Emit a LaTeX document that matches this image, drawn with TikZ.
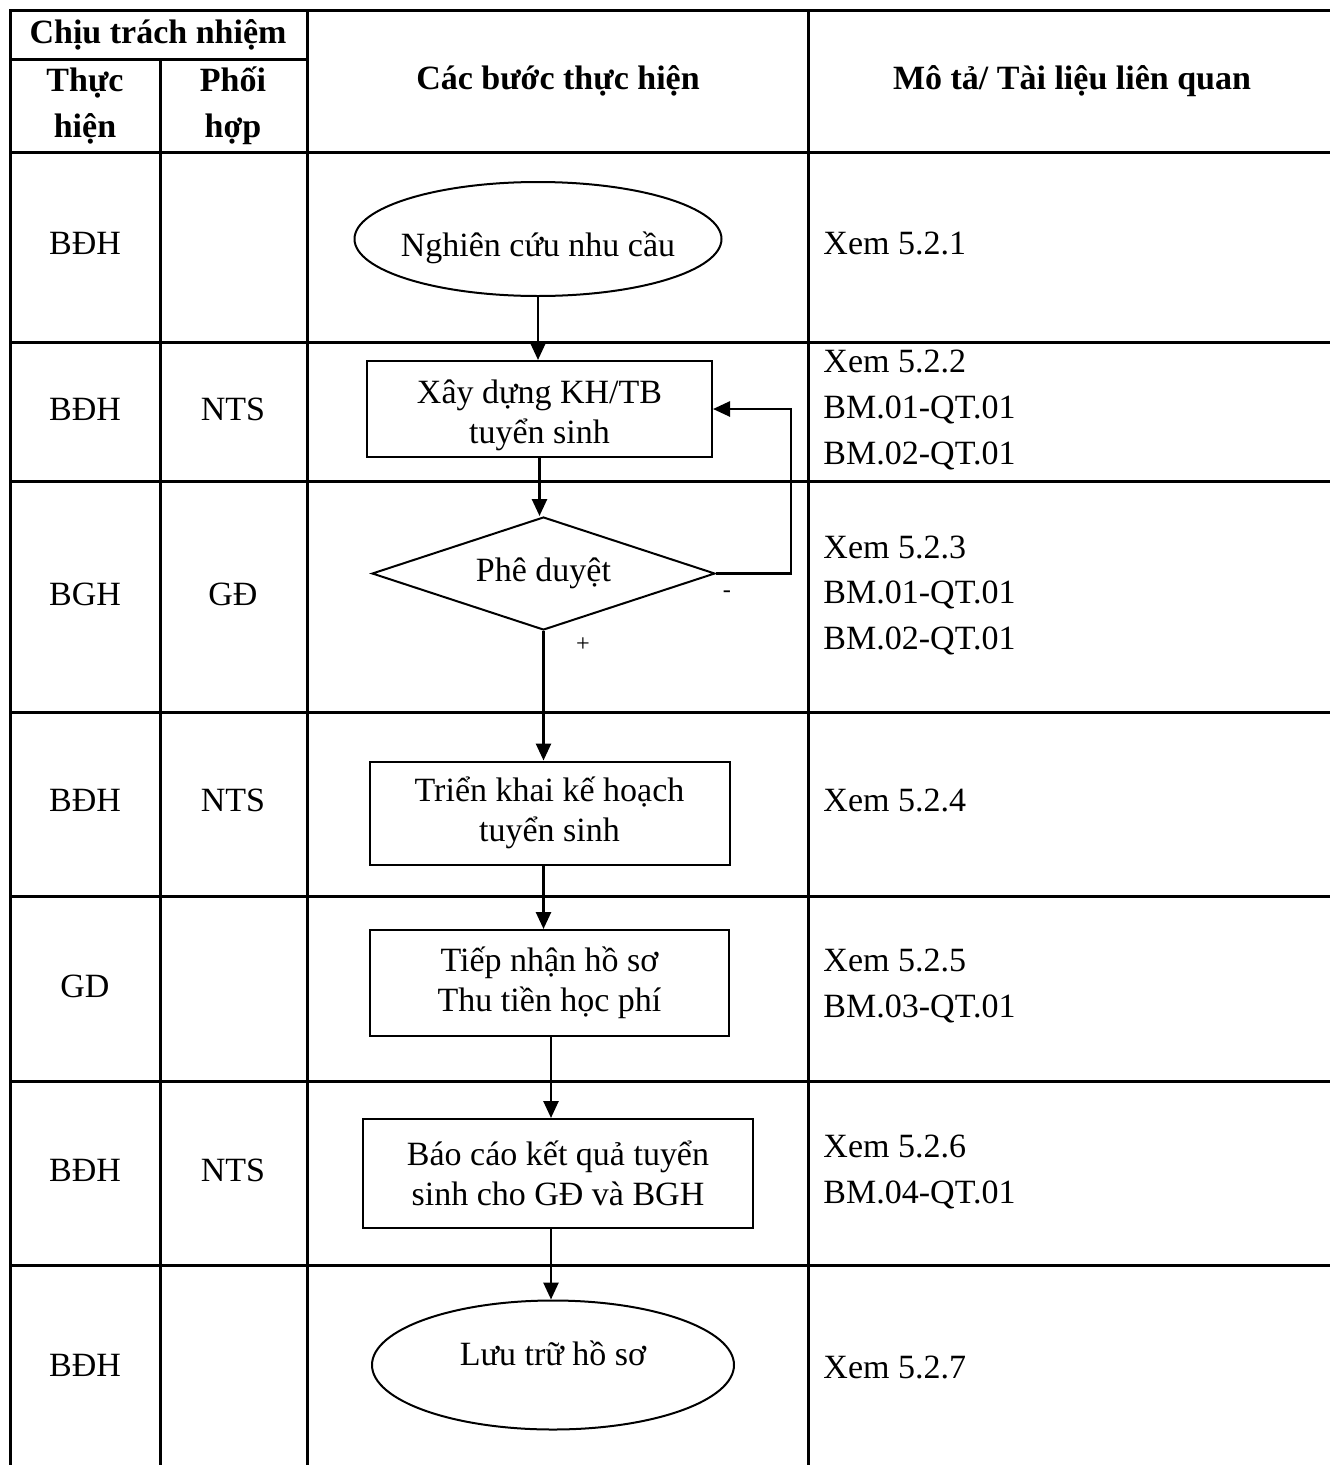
\documentclass[tikz,border=0pt]{standalone}
\usepackage{fontspec}
\setmainfont{Liberation Serif}
\usetikzlibrary{arrows.meta,shapes.geometric,calc}
\newcommand{\pxu}{0.4118pt}
\newcommand{\shiftv}[2]{\raisebox{#1}[\height][\depth]{#2}}
\begin{document}
\begin{tikzpicture}[x=\pxu, y=-\pxu,
  every node/.style={font=\fontsize{14pt}{18.74pt}\selectfont, inner sep=0pt},
  grid/.style={line width=3*\pxu},
  hd/.style={font=\fontsize{14pt}{18.9pt}\selectfont\bfseries, align=center},
  cell/.style={align=center},
  desc/.style={anchor=west, align=left},
  shp/.style={draw, line width=2*\pxu, align=center, font=\fontsize{14pt}{16.5pt}\selectfont},
  proc/.style={shp, rectangle},
  term/.style={shp, ellipse},
  dec/.style={shp, diamond, aspect=3},
  arr/.style={line width=2.6*\pxu, -{Triangle[length=17*\pxu, width=15*\pxu]}},
  sml/.style={font=\fontsize{10pt}{12pt}\selectfont}
]
\useasboundingbox (0,0) rectangle (1330,1465);
% table grid
\draw[grid] (10,1465) -- (10,10) -- (1330,10);
\draw[grid] (10,59) -- (307,59);
\foreach \yy in {152,342,481,712,896,1081,1265} \draw[grid] (10,\yy) -- (1330,\yy);
\draw[grid] (160,59) -- (160,1465);
\draw[grid] (307,10) -- (307,1465);
\draw[grid] (808,10) -- (808,1465);
% header
\node[hd] (h1) at (158,35) {Chịu trách nhiệm};
\node[hd] (h2) at (85,106) {Thực\\hiện};
\node[hd] (h3) at (233,106) {Phối\\hợp};
\node[hd] (h4) at (558,81) {Các bước thực hiện};
\node[hd] (h5) at (1072,81) {Mô tả/ Tài liệu liên quan};
% responsibility columns
\node[cell] (r1a) at (85,243) {BĐH};
\node[cell] (r2a) at (85,409) {BĐH};
\node[cell] (r2b) at (233,409) {NTS};
\node[cell] (r3a) at (85,594) {BGH};
\node[cell] (r3b) at (233,594) {GĐ};
\node[cell] (r4a) at (85,800) {BĐH};
\node[cell] (r4b) at (233,800) {NTS};
\node[cell] (r5a) at (85,986) {GD};
\node[cell] (r6a) at (85,1170) {BĐH};
\node[cell] (r6b) at (233,1170) {NTS};
\node[cell] (r7a) at (85,1365) {BĐH};
% description column
\node[desc] (d1) at (823,243) {Xem 5.2.1};
\node[desc] (d2) at (823,410) {Xem 5.2.2\\BM.01-QT.01\\BM.02-QT.01};
\node[desc] (d3) at (823,595) {Xem 5.2.3\\BM.01-QT.01\\BM.02-QT.01};
\node[desc] (d4) at (823,800) {Xem 5.2.4};
\node[desc] (d5) at (823,986) {Xem 5.2.5\\BM.03-QT.01};
\node[desc] (d6) at (823,1172) {Xem 5.2.6\\BM.04-QT.01};
\node[desc] (d7) at (823,1367) {Xem 5.2.7};
% flow shapes
\node[term, inner xsep=-8*\pxu, minimum width=367*\pxu, minimum height=114*\pxu] (s1) at (538,239) {\shiftv{-3.5pt}{Nghiên cứu nhu cầu}};
\node[proc, minimum width=345*\pxu, minimum height=96*\pxu] (s2) at (539.5,409) {\shiftv{-2.8pt}{Xây dựng KH/TB}\\\shiftv{-2.8pt}{tuyển sinh}};
\node[dec, minimum width=343*\pxu, minimum height=113*\pxu] (s3) at (543.5,573.5) {Phê duyệt};
\node[proc, minimum width=360*\pxu, minimum height=103*\pxu] (s4) at (549.5,813) {Triển khai kế hoạch\\tuyển sinh};
\node[proc, minimum width=359*\pxu, minimum height=106*\pxu] (s5) at (549.5,983) {Tiếp nhận hồ sơ\\Thu tiền học phí};
\node[proc, minimum width=390*\pxu, minimum height=109*\pxu] (s6) at (558,1173.5) {Báo cáo kết quả tuyển\\sinh cho GĐ và BGH};
\node[term, minimum width=362*\pxu, minimum height=129*\pxu] (s7) at (553,1365) {\shiftv{5pt}{Lưu trữ hồ sơ}};
\node[sml] (lm) at (727,594) {-};
\node[sml] (lp) at (583,645) {+};
% connectors
\coordinate (c6) at ($(s6.north)+(-7,0)$);
\draw[arr] (s1.south) -- (s1.south |- s2.north);
\draw[arr] (s2.south) -- (s2.south |- s3.north);
\draw[arr] (s3.south) -- (s3.south |- s4.north);
\draw[arr] (s3.south |- s4.south) -- (s3.south |- s5.north);
\draw[arr] (c6 |- s5.south) -- (c6);
\draw[arr] (c6 |- s6.south) -- (c6 |- s7.north);
\draw[arr] (s3.east) -- ++(75,0) |- (s2.east);
\end{tikzpicture}
\end{document}
